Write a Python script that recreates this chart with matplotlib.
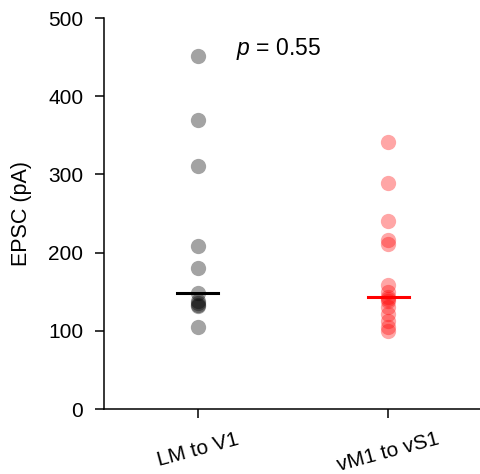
import matplotlib
matplotlib.use("Agg")
import matplotlib.pyplot as plt
import numpy as np

plt.rcParams['font.family'] = ['Liberation Sans', 'DejaVu Sans']
plt.rcParams['mathtext.fontset'] = 'custom'
plt.rcParams['mathtext.it'] = 'Liberation Sans:italic'
plt.rcParams['mathtext.rm'] = 'Liberation Sans'

groups = ["LM to V1", "vM1 to vS1"]
lm_v1 = [452, 370, 311, 208, 181, 148, 138, 135, 133, 132, 105]
vm1_vs1 = [342, 289, 240, 216, 211, 158, 150, 143, 141, 138, 130, 122, 112, 105, 100]
colors = ["black", "red"]
p_text = "0.55"

fig = plt.figure(figsize=(4.8, 4.74), dpi=100)
ax = fig.add_axes([0.217, 0.137, 0.783, 0.825])

for i, (vals, c) in enumerate(zip([lm_v1, vm1_vs1], colors)):
    alpha = 0.36 if c == "black" else 0.35
    ax.plot(np.full(len(vals), i), vals, 'o', color=c, alpha=alpha,
            markersize=11, markeredgewidth=0)
    med = np.median(vals)
    ax.plot([i - 0.107, i + 0.107], [med, med], color=c, lw=2.2)

ax.text(0.2, 461, "$p$ = " + p_text, fontsize=16.5, va='center', ha='left')

ax.set_xlim(-0.49, 1.48)
ax.set_ylim(0, 500)
ax.set_yticks([0, 100, 200, 300, 400, 500])
ax.set_xticks([0, 1])
ax.set_xticklabels(groups, rotation=15, ha='center', fontsize=16.5)
ax.set_ylabel("EPSC (pA)", fontsize=15.5, labelpad=12)
ax.tick_params(labelsize=15, direction='out', length=6.5, width=1.1, pad=8.5)
for s in ['top', 'right']:
    ax.spines[s].set_visible(False)
for s in ['left', 'bottom']:
    ax.spines[s].set_linewidth(1.1)

fig.savefig("out.png", dpi=100)
